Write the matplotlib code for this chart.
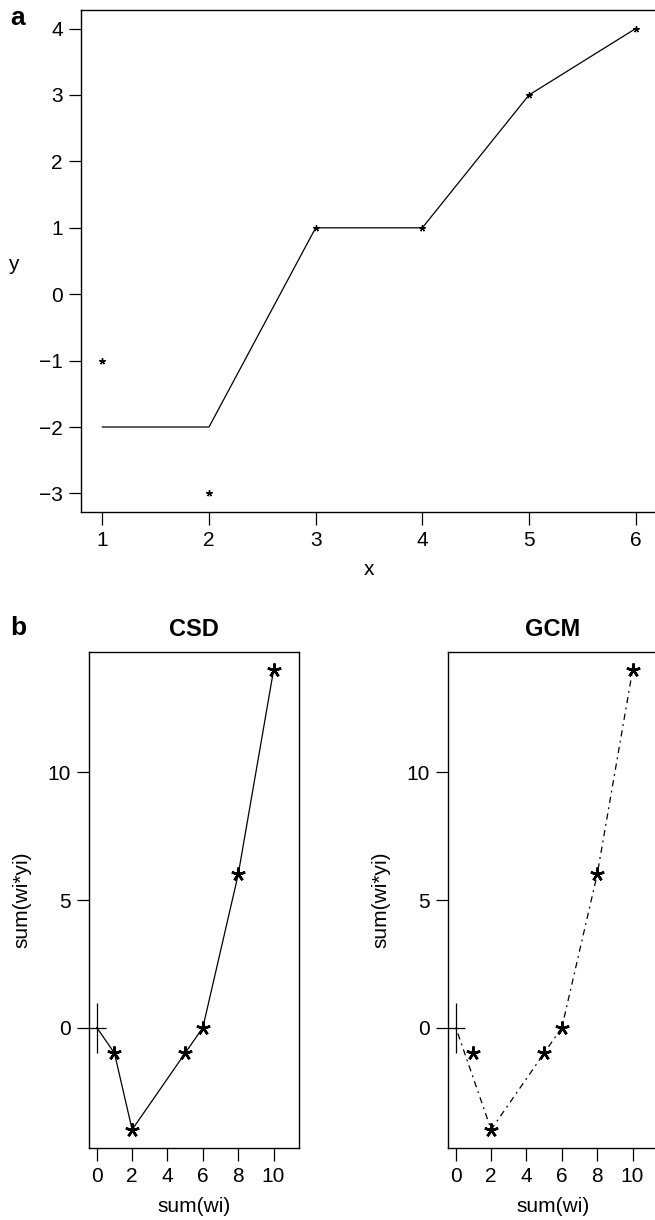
import matplotlib
matplotlib.use("Agg")
import matplotlib.pyplot as plt
import numpy as np
from matplotlib.path import Path

plt.rcParams["font.family"] = ["Liberation Sans", "DejaVu Sans"]
plt.rcParams["font.size"] = 15

# observations and their isotonic fit
x_obs = [1, 2, 3, 4, 5, 6]
y_obs = [-1, -3, 1, 1, 3, 4]
y_fit = [-2, -2, 1, 1, 3, 4]

# cumulative sum diagram and its greatest convex minorant
csd_w = [0, 1, 2, 5, 6, 8, 10]
csd_wy = [0, -1, -4, -1, 0, 6, 14]
gcm_w = [0, 2, 6, 8, 10]
gcm_wy = [0, -4, 0, 6, 14]

W, H = 655, 1220
fig = plt.figure(figsize=(W / 100, H / 100), dpi=100)

STAR = (5, 2, 0)
# tall thin cross marking the origin of the diagram
CROSS = Path([(-9, 0), (9, 0), (0, -25.5), (0, 25.5)],
             [Path.MOVETO, Path.LINETO, Path.MOVETO, Path.LINETO])


def r_axes(ax):
    for s in ax.spines.values():
        s.set_linewidth(1.0)
    ax.tick_params(direction="out", length=9, width=0.9, labelsize=15)
    ax.tick_params(axis="y", pad=4)
    ax.tick_params(axis="x", pad=5)


def frac(px_l, px_t, px_r, px_b):
    return [px_l / W, 1 - px_b / H, (px_r - px_l) / W, (px_b - px_t) / H]


# panel a
ax = fig.add_axes(frac(81, 10, 657, 512))
ax.plot(x_obs, y_fit, color="black", lw=0.9)
ax.plot(x_obs, y_obs, ls="none", marker=STAR, ms=4.5, mew=1.0, color="black")
ax.set_xlim(0.8, 6.2)
ax.set_ylim(-3.28, 4.28)
ax.set_xticks(range(1, 7))
ax.set_yticks(range(-3, 5))
ax.set_yticklabels([f"{v}".replace("-", "\u2212") for v in range(-3, 5)])
r_axes(ax)
ax.set_xlabel("x", va="baseline")
ax.xaxis.set_label_coords(0.5, (512 - 575) / 502)
ax.set_ylabel("y", rotation=0, va="center", ha="center")
ax.yaxis.set_label_coords((13 - 81) / 576, (512 - 264) / 502)
fig.text(10 / W, 1 - 25 / H, "a", fontsize=19, fontweight="bold", va="baseline")

# panel b
fig.text(10 / W, 1 - 635 / H, "b", fontsize=19, fontweight="bold", va="baseline")
panels = [
    ("CSD", 89, csd_w, csd_wy, "-"),
    ("GCM", 448, gcm_w, gcm_wy, (0, (1.5, 3.5, 5, 3.5))),
]
for title, left, lx, ly, ls in panels:
    ax = fig.add_axes(frac(left, 652, left + 210, 1148))
    ax.plot(lx, ly, color="black", lw=0.9, ls=ls)
    ax.plot(csd_w[1:], csd_wy[1:], ls="none", marker=STAR, ms=10, mew=1.8,
            color="black")
    ax.plot(csd_w[:1], csd_wy[:1], ls="none", marker=CROSS, ms=36.7, mew=0.9,
            color="black")
    ax.set_xlim(-0.44, 11.44)
    ax.set_ylim(-4.72, 14.72)
    ax.set_xticks(np.arange(0, 11, 2))
    ax.set_yticks([0, 5, 10])
    r_axes(ax)
    ax.set_xlabel("sum(wi)", va="baseline")
    ax.xaxis.set_label_coords(0.5, (1148 - 1212) / 496)
    ax.set_ylabel("sum(wi*yi)", va="center", ha="center")
    ax.yaxis.set_label_coords((22 - 89) / 210, 0.5)
    ax.text(0.5, 1 + (652 - 636) / 496, title, transform=ax.transAxes,
            ha="center", va="baseline", fontsize=17, fontweight="bold")

fig.savefig("out.png", dpi=100)
